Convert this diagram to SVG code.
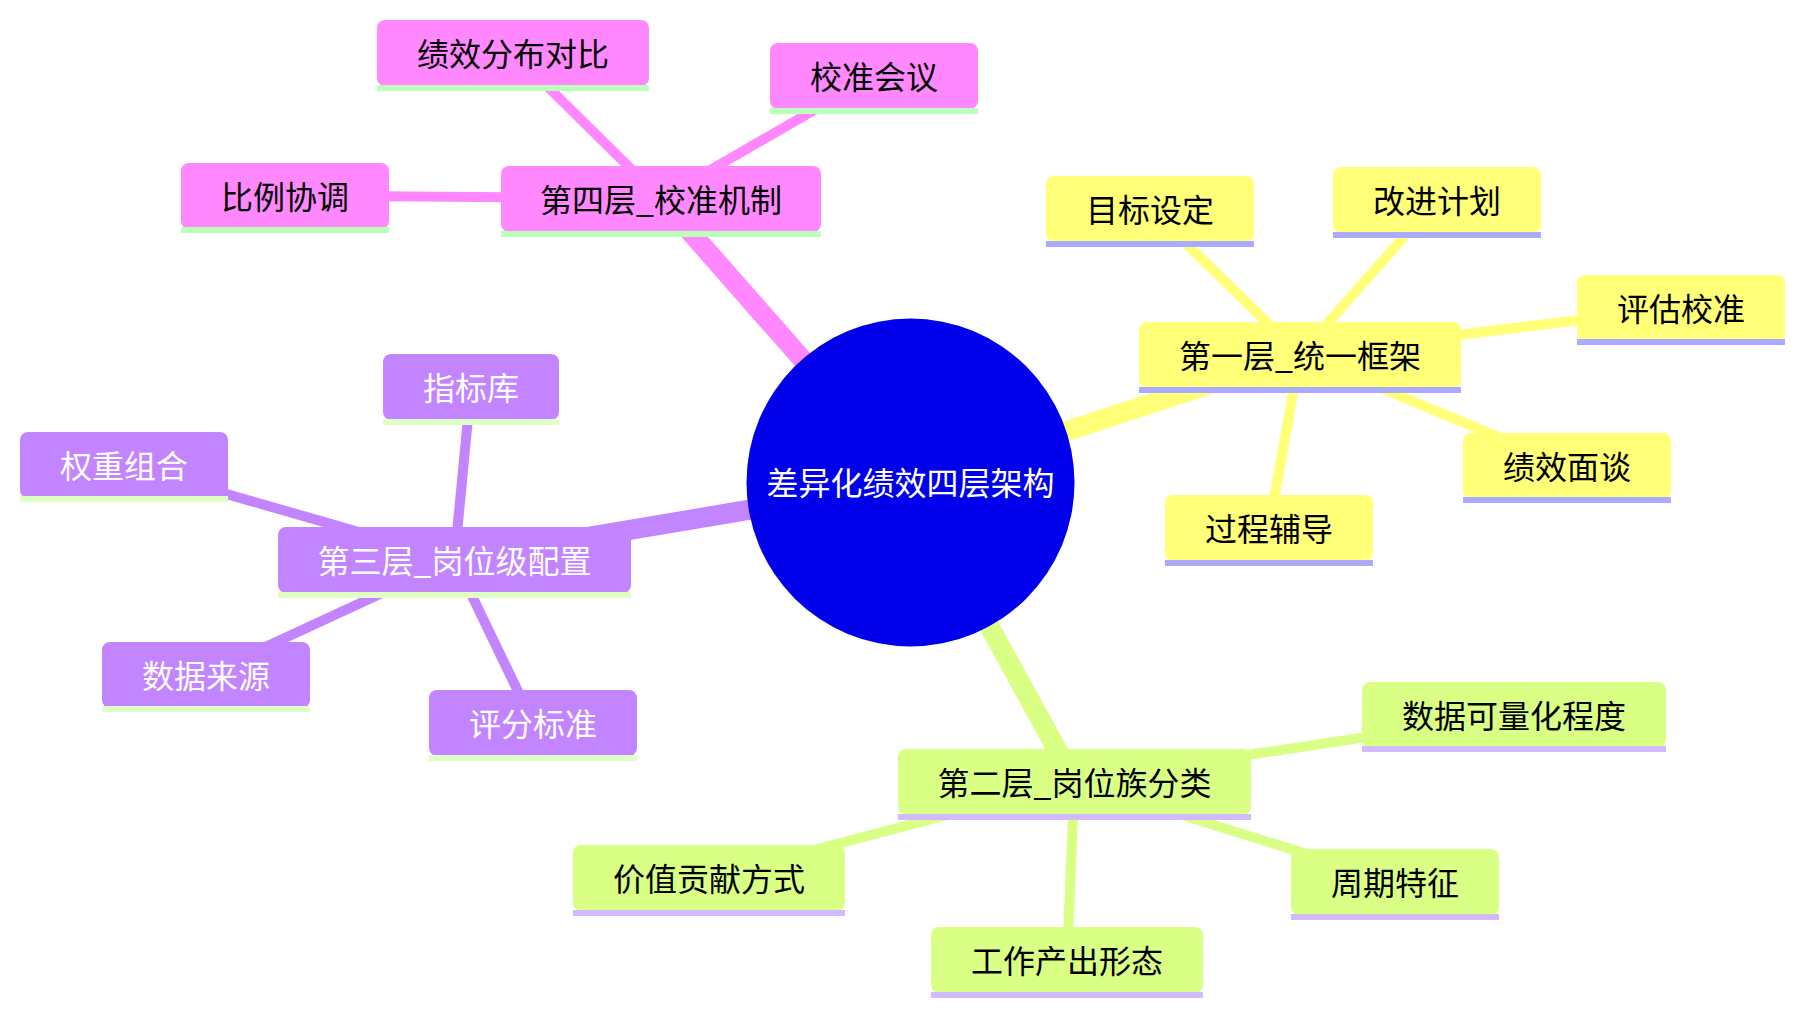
<svg xmlns="http://www.w3.org/2000/svg" width="1804" height="1014" viewBox="0 0 1804 1014">
<style>
text{font-family:"Noto Sans CJK SC","Noto Sans",sans-serif;font-size:32px;text-anchor:middle}
.e0{stroke-width:20;stroke-linecap:butt;fill:none}
.e1{stroke-width:10;stroke-linecap:butt;fill:none}
.pk{stroke:#ff88ff}.ye{stroke:#ffff78}.gr{stroke:#d9ff85}.pu{stroke:#c285ff}
rect.b{height:66px}
rect.u{height:6px}
.npk rect.b{fill:#ff88ff}.npk rect.u{fill:#bbffbb}.npk text{fill:#000}
.nye rect.b{fill:#ffff78}.nye rect.u{fill:#aaaaff}.nye text{fill:#000}
.ngr rect.b{fill:#d9ff85}.ngr rect.u{fill:#d3baff}.ngr text{fill:#000}
.npu rect.b{fill:#c285ff}.npu rect.u{fill:#dfffc4}.npu text{fill:#fff}
</style>
<rect width="1804" height="1014" fill="#fff"/>
<g id="connectors">
<line class="e0 pk" x1="910.5" y1="482.5" x2="661" y2="198.5"/>
<line class="e0 ye" x1="910.5" y1="482.5" x2="1300" y2="354.5"/>
<line class="e0 pu" x1="910.5" y1="482.5" x2="454.5" y2="559.5"/>
<line class="e0 gr" x1="910.5" y1="482.5" x2="1074.5" y2="781.5"/>
<line class="e1 pk" x1="661" y1="198.5" x2="513" y2="52.5"/>
<line class="e1 pk" x1="661" y1="198.5" x2="874" y2="75.5"/>
<line class="e1 pk" x1="661" y1="198.5" x2="285" y2="195.5"/>
<line class="e1 ye" x1="1300" y1="354.5" x2="1150" y2="208.5"/>
<line class="e1 ye" x1="1300" y1="354.5" x2="1437" y2="199.5"/>
<line class="e1 ye" x1="1300" y1="354.5" x2="1681" y2="307.5"/>
<line class="e1 ye" x1="1300" y1="354.5" x2="1567" y2="465.5"/>
<line class="e1 ye" x1="1300" y1="354.5" x2="1269" y2="527.5"/>
<line class="e1 pu" x1="454.5" y1="559.5" x2="471" y2="386.5"/>
<line class="e1 pu" x1="454.5" y1="559.5" x2="124" y2="464.5"/>
<line class="e1 pu" x1="454.5" y1="559.5" x2="206" y2="674.5"/>
<line class="e1 pu" x1="454.5" y1="559.5" x2="533" y2="722.5"/>
<line class="e1 gr" x1="1074.5" y1="781.5" x2="1514" y2="714.5"/>
<line class="e1 gr" x1="1074.5" y1="781.5" x2="709" y2="877.5"/>
<line class="e1 gr" x1="1074.5" y1="781.5" x2="1395" y2="881.5"/>
<line class="e1 gr" x1="1074.5" y1="781.5" x2="1067" y2="959.5"/>
</g>
<g id="root"><circle cx="910.5" cy="482.5" r="164" fill="#0000ea"/><text x="910.5" y="495" fill="#fff">差异化绩效四层架构</text></g>
<g id="n-l4" class="npk"><rect class="b" x="501" y="166" width="320" rx="8"/><rect class="u" x="501" y="231" width="320"/><text x="661" y="212">第四层_校准机制</text></g>
<g id="n-l4a" class="npk"><rect class="b" x="377" y="20" width="272" rx="8"/><rect class="u" x="377" y="85" width="272"/><text x="513" y="66">绩效分布对比</text></g>
<g id="n-l4b" class="npk"><rect class="b" x="770" y="43" width="208" rx="8"/><rect class="u" x="770" y="108" width="208"/><text x="874" y="89">校准会议</text></g>
<g id="n-l4c" class="npk"><rect class="b" x="181" y="163" width="208" rx="8"/><rect class="u" x="181" y="227" width="208"/><text x="285" y="209">比例协调</text></g>
<g id="n-l1" class="nye"><rect class="b" x="1139" y="322" width="322" rx="8"/><rect class="u" x="1139" y="387" width="322"/><text x="1300" y="368">第一层_统一框架</text></g>
<g id="n-l1a" class="nye"><rect class="b" x="1046" y="176" width="208" rx="8"/><rect class="u" x="1046" y="241" width="208"/><text x="1150" y="222">目标设定</text></g>
<g id="n-l1b" class="nye"><rect class="b" x="1333" y="167" width="208" rx="8"/><rect class="u" x="1333" y="232" width="208"/><text x="1437" y="213">改进计划</text></g>
<g id="n-l1c" class="nye"><rect class="b" x="1577" y="275" width="208" rx="8"/><rect class="u" x="1577" y="339" width="208"/><text x="1681" y="321">评估校准</text></g>
<g id="n-l1d" class="nye"><rect class="b" x="1463" y="433" width="208" rx="8"/><rect class="u" x="1463" y="497" width="208"/><text x="1567" y="479">绩效面谈</text></g>
<g id="n-l1e" class="nye"><rect class="b" x="1165" y="495" width="208" rx="8"/><rect class="u" x="1165" y="560" width="208"/><text x="1269" y="541">过程辅导</text></g>
<g id="n-l3" class="npu"><rect class="b" x="278" y="527" width="353" rx="8"/><rect class="u" x="278" y="592" width="353"/><text x="454.5" y="573">第三层_岗位级配置</text></g>
<g id="n-l3a" class="npu"><rect class="b" x="383" y="354" width="176" rx="8"/><rect class="u" x="383" y="419" width="176"/><text x="471" y="400">指标库</text></g>
<g id="n-l3b" class="npu"><rect class="b" x="20" y="432" width="208" rx="8"/><rect class="u" x="20" y="496" width="208"/><text x="124" y="478">权重组合</text></g>
<g id="n-l3c" class="npu"><rect class="b" x="102" y="642" width="208" rx="8"/><rect class="u" x="102" y="706" width="208"/><text x="206" y="688">数据来源</text></g>
<g id="n-l3d" class="npu"><rect class="b" x="429" y="690" width="208" rx="8"/><rect class="u" x="429" y="755" width="208"/><text x="533" y="736">评分标准</text></g>
<g id="n-l2" class="ngr"><rect class="b" x="898" y="749" width="353" rx="8"/><rect class="u" x="898" y="814" width="353"/><text x="1074.5" y="795">第二层_岗位族分类</text></g>
<g id="n-l2a" class="ngr"><rect class="b" x="1362" y="682" width="304" rx="8"/><rect class="u" x="1362" y="746" width="304"/><text x="1514" y="728">数据可量化程度</text></g>
<g id="n-l2b" class="ngr"><rect class="b" x="573" y="845" width="272" rx="8"/><rect class="u" x="573" y="910" width="272"/><text x="709" y="891">价值贡献方式</text></g>
<g id="n-l2c" class="ngr"><rect class="b" x="1291" y="849" width="208" rx="8"/><rect class="u" x="1291" y="914" width="208"/><text x="1395" y="895">周期特征</text></g>
<g id="n-l2d" class="ngr"><rect class="b" x="931" y="927" width="272" rx="8"/><rect class="u" x="931" y="992" width="272"/><text x="1067" y="973">工作产出形态</text></g>
</svg>
